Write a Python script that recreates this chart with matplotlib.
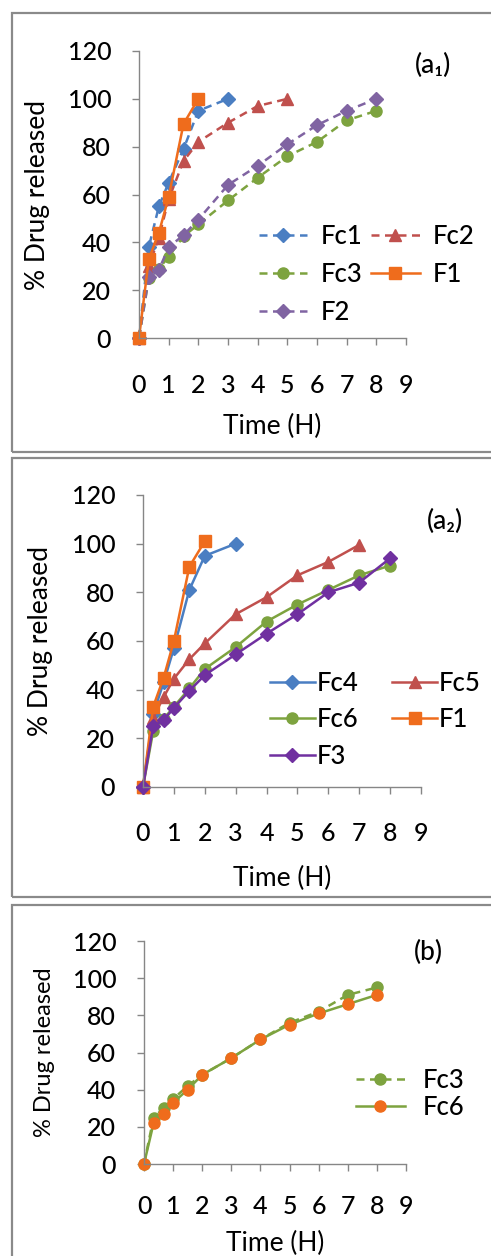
import matplotlib
matplotlib.use("Agg")
import matplotlib.pyplot as plt
from matplotlib.patches import Rectangle

plt.rcParams['font.family'] = ['Lato', 'DejaVu Sans']
plt.rcParams['font.weight'] = 500

# sampling times (hours)
t = [0, 0.33, 0.67, 1, 1.5, 2, 3, 4, 5, 6, 7, 8]

# panel (a1)
fc1 = [0, 38, 55, 65, 79, 95, 100]
fc2 = [0, 30, 42, 58, 74, 82, 90, 97, 100]
fc3 = [0, 25, 29, 34, 42.5, 47.5, 57.5, 67, 76, 82, 91, 95]
f2 = [0, 25.5, 28.5, 38, 43, 49.5, 64, 72, 81, 89, 95, 100]
f1_a1 = [0, 33, 44, 59, 89.5, 100]

# panel (a2)
fc4 = [0, 30, 43, 57, 81, 95, 100]
fc5 = [0, 28.5, 37, 44.5, 52.5, 59, 71, 78, 87, 92.5, 99.5]
fc6 = [0, 23, 28, 33, 40.5, 48.5, 57.5, 68, 75, 81, 87, 91]
f3 = [0, 25, 27.5, 32.5, 39.5, 46, 54.5, 63, 71, 80, 84, 94]
f1_a2 = [0, 33, 45, 60, 90.5, 101]

# panel (b)
fc3_b = [0, 25, 30, 35, 42, 48, 57, 67, 76, 82, 91, 95]
fc6_b = [0, 22, 27, 33, 40, 48, 57, 67, 75, 81, 86, 91]

blue = '#4A7EC2'
red = '#C0504D'
green = '#7DA33F'
purple_l = '#8064A2'
purple = '#7030A0'
orange = '#EF6C1C'
axcol = '#868686'

W, H = 491, 1256
fig = plt.figure(figsize=(W / 100, H / 100), dpi=100)

# panel frames (pixels: top, bottom)
for top, bot in [(13, 452), (458, 897), (905, 1270)]:
    fig.patches.append(Rectangle((12 / W, 1 - bot / H), 1.0, (bot - top) / H,
                                 transform=fig.transFigure, fill=False,
                                 edgecolor='#8a8a8a', linewidth=1.6))

TS = 18  # tick label size
LS = 18.5  # legend size


def style(ax, xpad, ypad=15):
    ax.set_xlim(0, 9)
    ax.set_ylim(0, 120)
    ax.set_xticks(range(10))
    ax.set_yticks(range(0, 121, 20))
    for s in ['top', 'right']:
        ax.spines[s].set_visible(False)
    for s in ['left', 'bottom']:
        ax.spines[s].set_color(axcol)
        ax.spines[s].set_linewidth(1.0)
    ax.tick_params(axis='both', direction='out', length=5, width=1,
                   color=axcol, labelsize=TS)
    ax.tick_params(axis='x', pad=xpad)
    ax.tick_params(axis='y', pad=ypad)


# ---- (a1)
ax1 = fig.add_axes([139 / W, 1 - 338 / H, 267 / W, 287 / H])
ms = dict(clip_on=False)
dash = (3.2, 2.2)
ax1.plot(t[:7], fc1, color=blue, lw=1.8, dashes=dash, marker='D', ms=7, label='Fc1', **ms)
ax1.plot(t[:9], fc2, color=red, lw=1.8, dashes=dash, marker='^', ms=9, label='Fc2', **ms)
ax1.plot(t, fc3, color=green, lw=1.8, dashes=dash, marker='o', ms=8, label='Fc3', **ms)
ax1.plot(t, f2, color=purple_l, lw=1.8, dashes=dash, marker='D', ms=7, label='F2', **ms)
ax1.plot(t[:6], f1_a1, color=orange, lw=1.8, marker='s', ms=9, label='F1', **ms)
style(ax1, 21)
ax1.set_xlabel('Time (H)', fontsize=19)
ax1.set_ylabel('% Drug released', fontsize=19)
ax1.xaxis.set_label_coords(0.5, -0.265)
ax1.yaxis.set_label_coords(-0.333, 0.5)
h, l = ax1.get_legend_handles_labels()
order = [0, 2, 3, 1, 4]
ax1.legend([h[i] for i in order], [l[i] for i in order], ncol=2, frameon=False,
           loc='upper left', bbox_to_anchor=(0.4, 0.442), borderpad=0,
           fontsize=LS, handlelength=1.9, handletextpad=0.5, columnspacing=0.35,
           labelspacing=0.5)
ax1.text(1.10, 0.951, '(a₁)', transform=ax1.transAxes, ha='center', va='center',
         fontsize=19)

# ---- (a2)
ax2 = fig.add_axes([143 / W, 1 - 787 / H, 278 / W, 292 / H])
ax2.plot(t[:7], fc4, color=blue, lw=1.8, marker='D', ms=7, label='Fc4', **ms)
ax2.plot(t[:11], fc5, color=red, lw=1.8, marker='^', ms=9, label='Fc5', **ms)
ax2.plot(t, fc6, color=green, lw=1.8, marker='o', ms=8, label='Fc6', **ms)
ax2.plot(t[:6], f1_a2, color=orange, lw=1.8, marker='s', ms=9, label='F1', **ms)
ax2.plot(t, f3, color=purple, lw=1.8, marker='D', ms=7, label='F3', **ms)
style(ax2, 20)
ax2.set_xlabel('Time (H)', fontsize=19)
ax2.set_ylabel('% Drug released', fontsize=19)
ax2.xaxis.set_label_coords(0.5, -0.27)
ax2.yaxis.set_label_coords(-0.324, 0.5)
h, l = ax2.get_legend_handles_labels()
order = [0, 2, 4, 1, 3]
ax2.legend([h[i] for i in order], [l[i] for i in order], ncol=2, frameon=False,
           loc='upper left', bbox_to_anchor=(0.41, 0.442), borderpad=0,
           fontsize=LS, handlelength=1.75, handletextpad=0.08, columnspacing=1.3,
           labelspacing=0.45)
ax2.text(1.086, 0.908, '(a₂)', transform=ax2.transAxes, ha='center', va='center',
         fontsize=19)

# ---- (b)
ax3 = fig.add_axes([144 / W, 1 - 1164 / H, 262 / W, 223 / H])
ax3.plot(t, fc3_b, color=green, lw=1.8, dashes=dash, marker='o', ms=8, label='Fc3', **ms)
ax3.plot(t, fc6_b, color=green, lw=1.8, marker='o', ms=8, mfc=orange, mec=orange,
         label='Fc6', **ms)
style(ax3, 17)
ax3.set_xlabel('Time (H)', fontsize=19)
ax3.set_ylabel('% Drug released', fontsize=17)
ax3.xaxis.set_label_coords(0.5, -0.3)
ax3.yaxis.set_label_coords(-0.34, 0.5)
ax3.legend(frameon=False, loc='upper left', bbox_to_anchor=(0.76, 0.489),
           borderpad=0, fontsize=LS, handlelength=1.9, handletextpad=0.7,
           labelspacing=0.1)
ax3.text(1.084, 0.951, '(b)', transform=ax3.transAxes, ha='center', va='center',
         fontsize=19)

fig.savefig('out.png', dpi=100)
